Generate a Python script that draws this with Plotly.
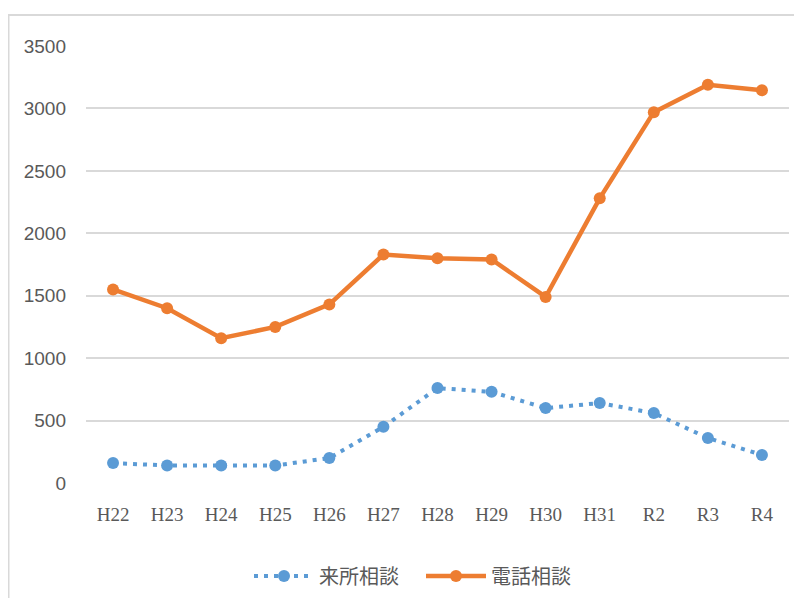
import plotly.graph_objects as go

categories = ["H22", "H23", "H24", "H25", "H26", "H27", "H28", "H29", "H30", "H31", "R2", "R3", "R4"]
raisho = [160, 140, 140, 140, 200, 450, 760, 730, 600, 640, 560, 360, 225]
denwa = [1550, 1400, 1160, 1250, 1430, 1830, 1800, 1790, 1490, 2280, 2970, 3190, 3145]
y_ticks = [0, 500, 1000, 1500, 2000, 2500, 3000, 3500]

fig = go.Figure()
fig.add_trace(go.Scatter(
    x=categories, y=raisho, name="来所相談", mode="lines+markers",
    line=dict(color="#5B9BD5", width=4, dash="4px,6px"),
    marker=dict(color="#5B9BD5", size=12, symbol="circle"),
))
fig.add_trace(go.Scatter(
    x=categories, y=denwa, name="電話相談", mode="lines+markers",
    line=dict(color="#ED7D31", width=4.5),
    marker=dict(color="#ED7D31", size=12, symbol="circle"),
))

W, H = 794, 590
L, R, T, B = 78, 13, 38, 115
pw, ph = W - L - R, H - T - B
bottom_px = H - B

fig.add_shape(type="rect", xref="paper", yref="paper",
              x0=(0.5 - L) / pw, x1=(W + 10 - L) / pw,
              y0=(bottom_px - (H + 10)) / ph, y1=(bottom_px - 7) / ph,
              line=dict(color="#D9D9D9", width=2), fillcolor="rgba(0,0,0,0)", layer="below")

fig.update_layout(
    width=W, height=H,
    margin=dict(l=L, r=R, t=T, b=B, autoexpand=False),
    paper_bgcolor="white", plot_bgcolor="white",
    showlegend=True,
    legend=dict(orientation="h", x=(413 - L) / pw, xanchor="center",
                y=(bottom_px - 568) / ph, yanchor="middle",
                font=dict(family="Noto Sans CJK JP", size=20, color="#595959"),
                itemwidth=60, entrywidth=97, entrywidthmode="pixels"),
    xaxis=dict(type="category", range=[-0.5, 12.5], showgrid=False, showline=False,
               zeroline=False, ticks="", automargin=False, ticklabelstandoff=18,
               tickfont=dict(family="Liberation Serif", size=19, color="#595959")),
    yaxis=dict(range=[0, 3500], tickvals=y_ticks, showgrid=True, gridcolor="#D9D9D9",
               gridwidth=1.5, zeroline=False, showline=False, ticks="", automargin=False,
               ticklabelstandoff=19,
               tickfont=dict(family="Liberation Sans Narrow, Liberation Sans", size=19, color="#595959")),
)

fig.write_html("out.html")
